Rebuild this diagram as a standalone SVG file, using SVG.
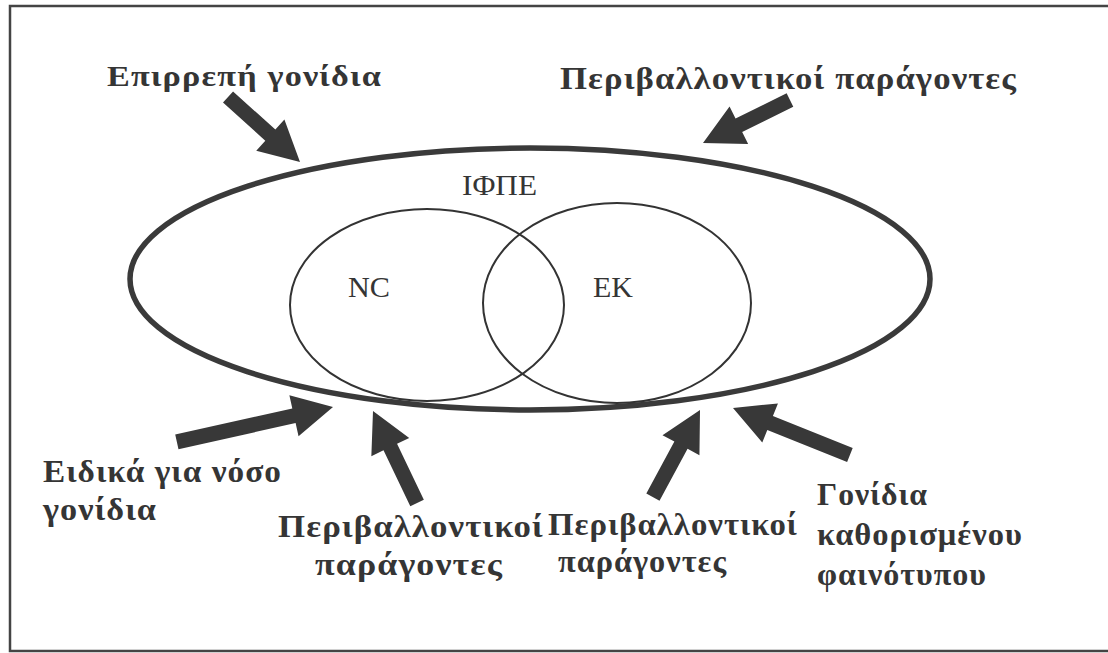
<svg xmlns="http://www.w3.org/2000/svg" width="1108" height="653" viewBox="0 0 1108 653">
  <style>
    .lbl { font-family: "Liberation Serif", "Times New Roman", serif; font-weight: bold; font-size: 32px; letter-spacing: 1px; fill: #353535; }
    .small { font-size: 29px; }
    .in { font-family: "Liberation Serif", "Times New Roman", serif; font-size: 29px; fill: #353535; }
    .arrow { fill: #383838; stroke: none; }
    .outer { fill: none; stroke: #3a3a3a; stroke-width: 5.5; }
    .venn { fill: none; stroke: #333333; stroke-width: 2; }
  </style>
  <rect x="0" y="0" width="1108" height="653" fill="#ffffff"/>
  <path d="M1108 6 H10 V651 H1108" fill="none" stroke="#444444" stroke-width="2.5"/>

  <g id="ifpe">
    <ellipse class="outer" cx="530" cy="279" rx="400" ry="131"/>
    <text class="in" x="462" y="195" textLength="75" lengthAdjust="spacingAndGlyphs">ΙΦΠΕ</text>
  </g>
  <g id="nc">
    <ellipse class="venn" cx="427" cy="305" rx="137" ry="96"/>
    <text class="in" x="348" y="297" textLength="42" lengthAdjust="spacingAndGlyphs">NC</text>
  </g>
  <g id="ek">
    <ellipse class="venn" cx="617" cy="303" rx="134" ry="100"/>
    <text class="in" x="593" y="297" textLength="40" lengthAdjust="spacingAndGlyphs">EK</text>
  </g>

  <g id="label-epirrepi">
    <text class="lbl small" x="107" y="86" textLength="275" lengthAdjust="spacingAndGlyphs">Επιρρεπή γονίδια</text>
  </g>
  <g id="label-perivallontikoi-top">
    <text class="lbl" x="560" y="89" textLength="457" lengthAdjust="spacingAndGlyphs">Περιβαλλοντικοί παράγοντες</text>
  </g>
  <g id="label-eidika">
    <text class="lbl" x="43" y="482" textLength="239" lengthAdjust="spacingAndGlyphs">Ειδικά για νόσο</text>
    <text class="lbl" x="43" y="520" textLength="114" lengthAdjust="spacingAndGlyphs">γονίδια</text>
  </g>
  <g id="label-perivallontikoi-1">
    <text class="lbl" x="278" y="537" textLength="266" lengthAdjust="spacingAndGlyphs">Περιβαλλοντικοί</text>
    <text class="lbl" x="315" y="575" textLength="188" lengthAdjust="spacingAndGlyphs">παράγοντες</text>
  </g>
  <g id="label-perivallontikoi-2">
    <text class="lbl" x="548" y="535" textLength="250" lengthAdjust="spacingAndGlyphs">Περιβαλλοντικοί</text>
    <text class="lbl" x="558" y="572" textLength="169" lengthAdjust="spacingAndGlyphs">παράγοντες</text>
  </g>
  <g id="label-gonidia">
    <text class="lbl" x="817" y="505" textLength="111" lengthAdjust="spacingAndGlyphs">Γονίδια</text>
    <text class="lbl" x="817" y="545" textLength="206" lengthAdjust="spacingAndGlyphs">καθορισμένου</text>
    <text class="lbl" x="817" y="585" textLength="170" lengthAdjust="spacingAndGlyphs">φαινότυπου</text>
  </g>

  <g id="connectors">
    <polygon class="arrow" transform="translate(300,162) rotate(42.1)" points="-97,-7.5 -40,-7.5 -40,-21 0,0 -40,21 -40,7.5 -97,7.5"/>
    <polygon class="arrow" transform="translate(703,143) rotate(153.7)" points="-97,-7.5 -40,-7.5 -40,-21 0,0 -40,21 -40,7.5 -97,7.5"/>
    <polygon class="arrow" transform="translate(333,407) rotate(-12.6)" points="-160,-7.5 -40,-7.5 -40,-21 0,0 -40,21 -40,7.5 -160,7.5"/>
    <polygon class="arrow" transform="translate(373,411) rotate(-115.6)" points="-102,-7.5 -40,-7.5 -40,-21 0,0 -40,21 -40,7.5 -102,7.5"/>
    <polygon class="arrow" transform="translate(700,410) rotate(-61.6)" points="-99,-7.5 -40,-7.5 -40,-21 0,0 -40,21 -40,7.5 -99,7.5"/>
    <polygon class="arrow" transform="translate(733,408) rotate(-158.1)" points="-126,-7.5 -40,-7.5 -40,-21 0,0 -40,21 -40,7.5 -126,7.5"/>
  </g>
</svg>
